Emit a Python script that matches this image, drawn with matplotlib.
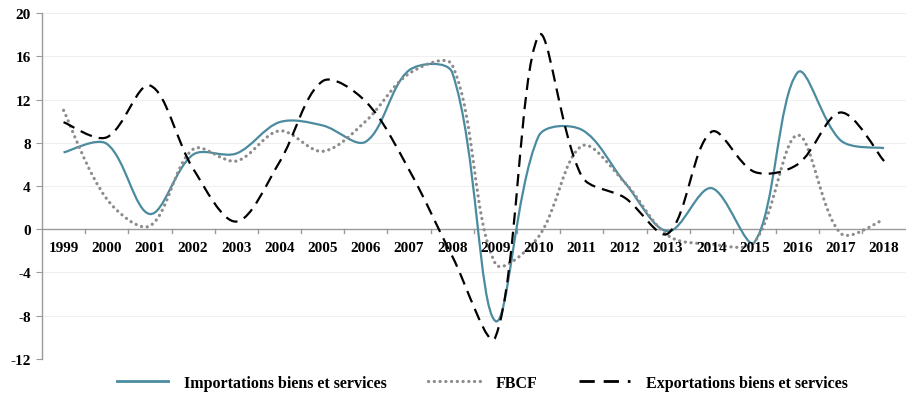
import matplotlib
matplotlib.use("Agg")
import matplotlib.pyplot as plt
from matplotlib.path import Path
from matplotlib.patches import PathPatch
from matplotlib.lines import Line2D
import numpy as np

years = ["1999", "2000", "2001", "2002", "2003", "2004", "2005", "2006", "2007", "2008",
         "2009", "2010", "2011", "2012", "2013", "2014", "2015", "2016", "2017", "2018"]
importations = [7.1, 7.9, 1.4, 6.9, 7.0, 9.9, 9.6, 8.1, 14.7, 14.5,
                -8.5, 8.6, 9.2, 4.3, -0.2, 3.8, -1.2, 14.5, 8.2, 7.5]
fbcf = [11.0, 2.8, 0.3, 7.4, 6.3, 9.1, 7.2, 10.0, 14.4, 15.2,
        -3.2, -0.7, 7.7, 4.3, -0.6, -1.4, -1.2, 8.7, -0.4, 0.9]
exportations = [9.9, 8.5, 13.3, 5.6, 0.7, 6.2, 13.7, 11.8, 5.5, -2.5,
                -10.0, 17.9, 4.9, 2.9, -0.4, 9.0, 5.3, 6.0, 10.8, 6.3]
labels = ["Importations biens et services", "FBCF", "Exportations biens et services"]
yticks = [-12, -8, -4, 0, 4, 8, 12, 16, 20]

plt.rcParams['font.family'] = ['Liberation Serif', 'DejaVu Serif']

BLUE = "#4A8BA0"
GREY = "#8C8C8C"


def smooth_path(ax, xs, ys):
    # Excel-style smoothed line: Bezier segments through every data point,
    # tangents weighted by segment lengths measured on screen
    pts = ax.transData.transform(np.column_stack([xs, ys]).astype(float))
    n = len(pts)
    verts = [pts[0]]
    codes = [Path.MOVETO]
    for i in range(n - 1):
        p0 = pts[i - 1] if i > 0 else pts[i]
        p1 = pts[i]
        p2 = pts[i + 1]
        p3 = pts[i + 2] if i + 2 < n else pts[i + 1]
        d01 = np.hypot(*(p1 - p0))
        d12 = np.hypot(*(p2 - p1))
        d23 = np.hypot(*(p3 - p2))
        f1 = d12 / (3.0 * (d01 + d12)) if d01 + d12 > 0 else 0
        f2 = d12 / (3.0 * (d12 + d23)) if d12 + d23 > 0 else 0
        if i == 0:
            f1 = 1.0 / 6.0
        if i + 2 >= n:
            f2 = 1.0 / 6.0
        c1 = p1 + (p2 - p0) * f1
        c2 = p2 - (p3 - p1) * f2
        verts += [c1, c2, p2]
        codes += [Path.CURVE4] * 3
    verts = ax.transData.inverted().transform(np.array(verts))
    return Path(verts, codes)


fig = plt.figure(figsize=(9.12, 4.02), dpi=100)
ax = fig.add_axes([0.046, 0.105, 0.947, 0.86])

x = np.arange(len(years))
ax.set_xlim(-0.5, len(years) - 0.5)
ax.set_ylim(-12, 20)

for yv in yticks:
    if yv != 0:
        ax.axhline(yv, color="#EFEFEF", lw=0.8, zorder=0)

series = [
    (importations, dict(edgecolor=BLUE, lw=1.6, linestyle="-")),
    (fbcf, dict(edgecolor=GREY, lw=2.3, linestyle=(0, (0.05, 1.75)), capstyle="round")),
    (exportations, dict(edgecolor="black", lw=1.6, linestyle=(0, (5.5, 3.2)), capstyle="butt")),
]
for vals, st in series:
    patch = PathPatch(smooth_path(ax, x, vals), facecolor="none", zorder=3, **st)
    ax.add_patch(patch)

# axes styling
for s in ["top", "right", "bottom"]:
    ax.spines[s].set_visible(False)
ax.spines["left"].set_color("#9A9A9A")
ax.spines["left"].set_linewidth(1.0)
ax.axhline(0, color="#9A9A9A", lw=1.0, zorder=2)

ax.set_yticks(yticks)
ax.set_yticklabels([str(v) for v in yticks], fontsize=11, fontweight="bold")
ax.tick_params(axis="y", length=4, color="#9A9A9A", pad=4)

ax.set_xticks([])
for xi, lab in zip(x, years):
    ax.text(xi, -1.1, lab, ha="center", va="top", fontsize=11, fontweight="bold")
for b in np.arange(0.5, len(years) - 0.5, 1.0):
    ax.plot([b, b], [0, -0.4], color="#9A9A9A", lw=1.0, zorder=2)

handles = [
    Line2D([], [], color=BLUE, lw=2.0),
    Line2D([], [], color=GREY, lw=2.3, linestyle=(0, (0.05, 1.75)), dash_capstyle="round"),
    Line2D([], [], color="black", lw=2.0, linestyle=(0, (5.5, 3.2))),
]
fig.legend(handles, labels, loc="lower center", bbox_to_anchor=(0.529, -0.01), ncol=3,
           frameon=False, prop={"size": 11.5, "weight": "bold"},
           handlelength=3.2, columnspacing=2.6, handletextpad=1.0)

fig.savefig("out.png", dpi=100)
